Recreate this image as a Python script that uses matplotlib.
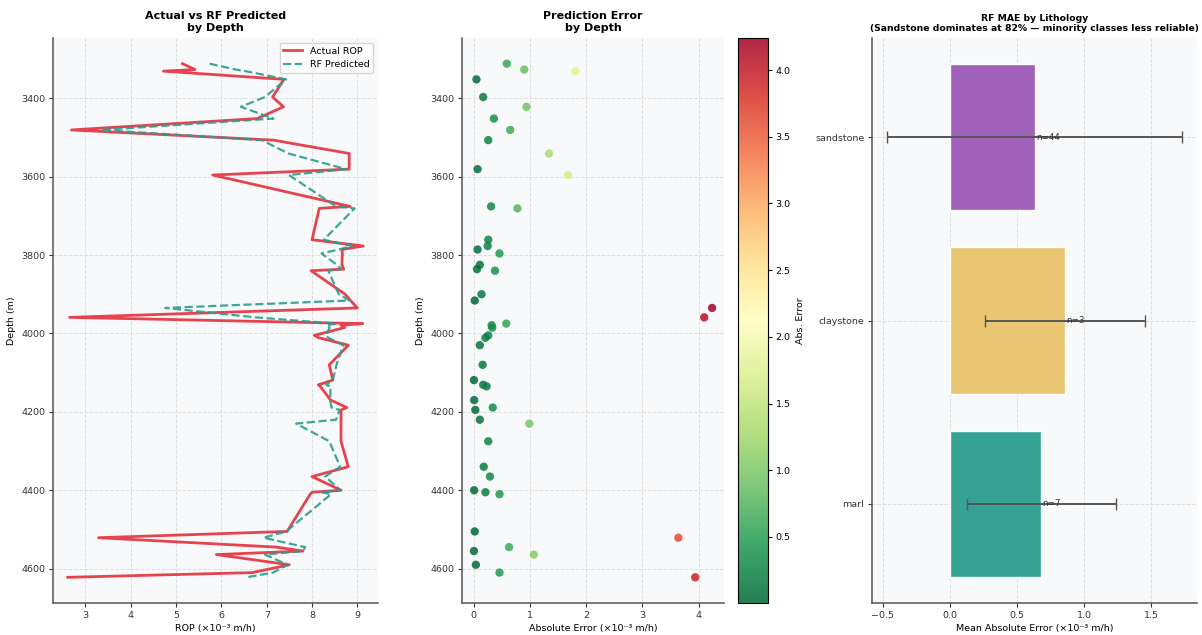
import matplotlib
matplotlib.use("Agg")
import matplotlib.pyplot as plt
import numpy as np

# ---- data ----
depth = [3312, 3327, 3331, 3352, 3397, 3422, 3452, 3481, 3507, 3541, 3581, 3596,
         3676, 3681, 3761, 3777, 3786, 3796, 3825, 3836, 3840, 3900, 3916, 3935,
         3959, 3975, 3979, 3985, 4005, 4011, 4030, 4080, 4119, 4131, 4135, 4170,
         4189, 4195, 4220, 4230, 4275, 4340, 4365, 4400, 4405, 4410, 4505, 4521,
         4545, 4555, 4564, 4590, 4610, 4622]
actual_rop = [5.14, 5.42, 4.72, 7.38, 7.13, 7.37, 6.79, 2.69, 7.15, 8.82, 8.82, 5.81,
              8.84, 8.16, 8.00, 9.13, 8.66, 8.67, 8.66, 8.70, 7.98, 8.73, 8.85, 9.00,
              2.65, 9.12, 8.64, 8.72, 8.05, 8.15, 8.80, 8.38, 8.46, 8.14, 8.18, 8.41,
              8.77, 8.64, 8.64, 8.64, 8.64, 8.80, 8.00, 8.64, 8.00, 7.96, 7.45, 3.29,
              7.22, 7.80, 5.89, 7.50, 6.68, 2.61]
rf_pred = [5.74, 6.32, 6.53, 7.43, 6.96, 6.43, 7.15, 3.34, 6.89, 7.48, 8.75, 7.49,
           8.53, 8.94, 8.26, 8.88, 8.59, 8.21, 8.55, 8.64, 8.36, 8.59, 8.83, 4.76,
           6.75, 8.54, 8.32, 8.39, 8.31, 8.36, 8.69, 8.54, 8.46, 8.31, 8.41, 8.40,
           8.43, 8.61, 8.53, 7.65, 8.38, 8.62, 8.29, 8.63, 8.21, 8.42, 7.43, 6.93,
           7.85, 7.80, 6.96, 7.46, 7.14, 6.55]
abs_error = [0.59, 0.90, 1.81, 0.05, 0.17, 0.94, 0.36, 0.65, 0.26, 1.34, 0.07, 1.68,
             0.31, 0.78, 0.26, 0.25, 0.07, 0.46, 0.11, 0.06, 0.38, 0.14, 0.02, 4.24,
             4.10, 0.58, 0.32, 0.33, 0.26, 0.21, 0.11, 0.16, 0.005, 0.17, 0.23, 0.01,
             0.34, 0.03, 0.11, 0.99, 0.26, 0.18, 0.29, 0.01, 0.21, 0.46, 0.02, 3.64,
             0.63, 0.006, 1.07, 0.04, 0.46, 3.94]

lithology = ["marl", "claystone", "sandstone"]
litho_mae = [0.68, 0.86, 0.63]
litho_std = [0.555, 0.595, 1.10]
litho_n = [7, 3, 44]
litho_colors = ["#2a9d8f", "#e9c46a", "#9b59b6"]

RED = "#e63946"
TEAL = "#2a9d8f"
FACE = "#f8f9fa"
TS = 6.8   # tick / label size

plt.rcParams["font.family"] = ["DejaVu Sans"]

fig = plt.figure(figsize=(12.02, 6.35), dpi=100)
W, H = 1202.0, 635.0

def box(x0, y0, x1, y1):
    return [x0 / W, (H - y1) / H, (x1 - x0) / W, (y1 - y0) / H]

ax1 = fig.add_axes(box(53, 38, 378, 603))
ax2 = fig.add_axes(box(462, 38, 724, 603))
cax = fig.add_axes(box(738, 38, 768, 603))
ax3 = fig.add_axes(box(872, 38, 1197, 603))

def style(ax):
    ax.set_facecolor(FACE)
    ax.grid(True, linestyle="--", color="#d8d8d8", linewidth=0.7, alpha=0.8)
    ax.set_axisbelow(True)
    for s in ["top", "right"]:
        ax.spines[s].set_visible(False)
    for s in ["left", "bottom"]:
        ax.spines[s].set_color("#555555")
        ax.spines[s].set_linewidth(1.1)
    ax.tick_params(labelsize=TS, colors="#333333", length=3, pad=2.5)

# ---- panel 1 ----
style(ax1)
ax1.plot(actual_rop, depth, color=RED, lw=2.0, label="Actual ROP", alpha=0.95)
ax1.plot(rf_pred, depth, color=TEAL, lw=1.6, ls="--", label="RF Predicted", alpha=0.9)
ax1.invert_yaxis()
ax1.set_xlabel("ROP (×10⁻³ m/h)", fontsize=TS, labelpad=3)
ax1.set_ylabel("Depth (m)", fontsize=TS)
ax1.set_title("Actual vs RF Predicted\nby Depth", fontsize=8, fontweight="bold", pad=5)
ax1.legend(loc="upper right", fontsize=TS, frameon=True)
ax1.set_yticks([3400, 3600, 3800, 4000, 4200, 4400, 4600])

# ---- panel 2 ----
style(ax2)
sc = ax2.scatter(abs_error, depth, c=abs_error, cmap="RdYlGn_r", s=36,
                 alpha=0.85, edgecolors="none")
ax2.invert_yaxis()
ax2.set_xlabel("Absolute Error (×10⁻³ m/h)", fontsize=TS, labelpad=3)
ax2.set_ylabel("Depth (m)", fontsize=TS)
ax2.set_title("Prediction Error\nby Depth", fontsize=8, fontweight="bold", pad=5)
ax2.set_yticks([3400, 3600, 3800, 4000, 4200, 4400, 4600])
cb = fig.colorbar(sc, cax=cax)
cb.set_label("Abs. Error", fontsize=TS, labelpad=4)
cb.ax.tick_params(labelsize=TS, length=3, pad=2.5)

# ---- panel 3 ----
style(ax3)
ypos = np.arange(len(lithology))
ax3.barh(ypos, litho_mae, xerr=litho_std, color=litho_colors, alpha=0.95,
         height=0.8, edgecolor="white", capsize=4,
         error_kw=dict(ecolor="#555555", elinewidth=1.4, capthick=1.0))
for yy, m, n in zip(ypos, litho_mae, litho_n):
    ax3.text(m + 0.01, yy, f"n={n}", va="center", ha="left", fontsize=6.3, color="#333333")
ax3.set_yticks(ypos)
ax3.set_yticklabels(lithology)
ax3.set_xlabel("Mean Absolute Error (×10⁻³ m/h)", fontsize=TS, labelpad=3)
ax3.set_title("RF MAE by Lithology\n(Sandstone dominates at 82% — minority classes less reliable)",
              fontsize=6.7, fontweight="bold", pad=5)

fig.savefig("out.png", dpi=100)
